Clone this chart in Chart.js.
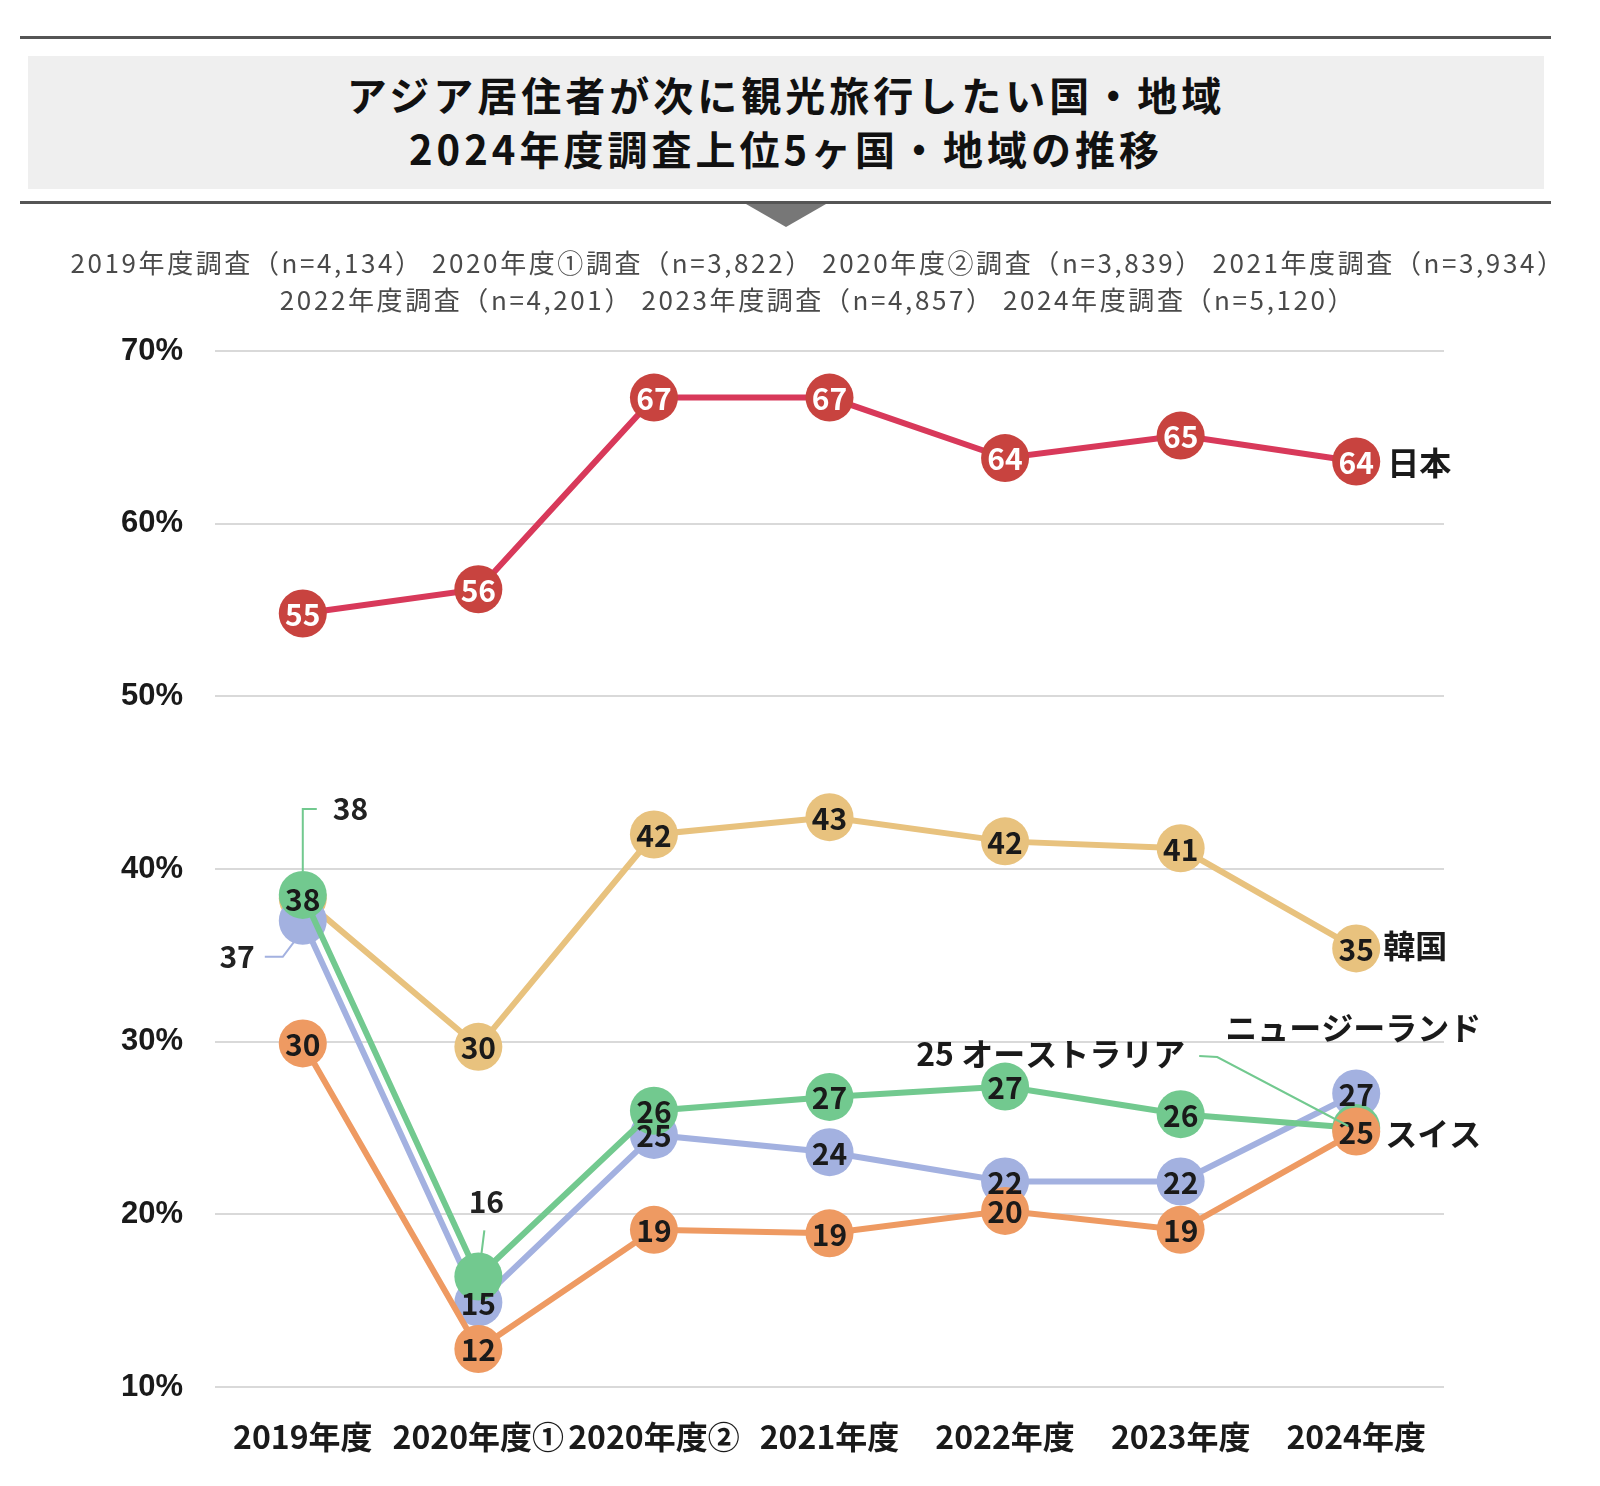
<!DOCTYPE html>
<html lang="ja">
<head>
<meta charset="utf-8">
<title>アジア居住者が次に観光旅行したい国・地域</title>
<script src="https://cdn.jsdelivr.net/npm/chart.js@4.4.1/dist/chart.umd.min.js"></script>
<style>
  html, body { margin: 0; padding: 0; background: #fff; }
  body { width: 1600px; height: 1486px; position: relative; overflow: hidden;
         font-family: "Noto Sans CJK JP", "Noto Sans", sans-serif; }
  #chart { position: absolute; left: 0; top: 0; }
  .rule { position: absolute; left: 20px; width: 1531px; height: 3px; background: #555; z-index: 2; }
  #titleBox { position: absolute; left: 28px; top: 56px; width: 1516px; height: 133px;
              background: #efefef; z-index: 2; text-align: center; color: #111;
              font-weight: 700; font-size: 40px; line-height: 54px; letter-spacing: 4px;
              padding-top: 11px; box-sizing: border-box; }
  #arrow { position: absolute; left: 746px; top: 204px; width: 0; height: 0; z-index: 2;
           border-left: 40px solid transparent; border-right: 40px solid transparent;
           border-top: 23px solid #777; }
  #note { position: absolute; left: 8px; top: 243px; width: 1620px; text-align: center;
          font-size: 26px; line-height: 37px; color: #4a4a4a; letter-spacing: 2.6px; z-index: 2; }
</style>
</head>
<body>
<div class="rule" style="top:36px"></div>
<div id="titleBox">
  <div>アジア居住者が次に観光旅行したい国・地域</div>
  <div>2024年度調査上位5ヶ国・地域の推移</div>
</div>
<div class="rule" style="top:201px"></div>
<div id="arrow"></div>
<div id="note">
  <div>2019年度調査（n=4,134） 2020年度①調査（n=3,822） 2020年度②調査（n=3,839） 2021年度調査（n=3,934）</div>
  <div>2022年度調査（n=4,201） 2023年度調査（n=4,857） 2024年度調査（n=5,120）</div>
</div>
<canvas id="chart" width="1600" height="1486"></canvas>
<script>
// survey rounds and share (%) of respondents per destination
const labels = ['2019年度', '2020年度①', '2020年度②', '2021年度', '2022年度', '2023年度', '2024年度'];
const japan = [54.8, 56.2, 67.3, 67.3, 63.8, 65.1, 63.6];
const korea = [38.3, 29.7, 42.0, 43.0, 41.6, 41.2, 35.4];
const australia = [38.5, 16.4, 26.0, 26.8, 27.4, 25.8, 25.0];
const newZealand = [37.0, 14.9, 24.6, 23.6, 21.9, 21.9, 27.0];
const switzerland = [29.9, 12.2, 19.1, 18.9, 20.2, 19.1, 24.8];
const yTicks = [10, 20, 30, 40, 50, 60, 70];

const NUM_FONT = 'bold 30px "Noto Sans CJK JP", "Noto Sans", sans-serif';
const NAME_FONT = 'bold 32px "Noto Sans CJK JP", sans-serif';

// labels that sit outside their circle, with a thin leader line (offsets from the point)
const callouts = {
  'australia-0': { text: '38', align: 'left', dx: 30, dy: -86, path: [[0, -24], [0, -86], [14, -86]] },
  'newZealand-0': { text: '37', align: 'right', dx: -48, dy: 36, path: [[-38, 36], [-20, 36], [-8, 20]] },
  'australia-1': { text: '16', align: 'center', dx: 8, dy: -75, path: [[6, -46], [3, -22]] },
  'australia-6': { text: '', align: 'right', dx: 0, dy: 0, path: [[-157, -72], [-139, -71], [-8, -2]] }
};

function makeSet(key, data, line, point, textColor, order, name) {
  return {
    key: key, label: key, data: data, order: order,
    borderColor: line, backgroundColor: point,
    pointBackgroundColor: point, pointBorderWidth: 0,
    pointRadius: 24, pointHoverRadius: 24, borderWidth: 6,
    tension: 0, textColor: textColor, name: name
  };
}

const valueLabels = {
  id: 'valueLabels',
  afterDatasetsDraw(chart) {
    const ctx = chart.ctx;
    ctx.save();
    ctx.textBaseline = 'middle';
    chart.data.datasets.forEach((ds, di) => {
      const meta = chart.getDatasetMeta(di);
      meta.data.forEach((pt, i) => {
        const c = callouts[ds.key + '-' + i];
        ctx.font = NUM_FONT;
        if (c) {
          ctx.strokeStyle = ds.borderColor;
          ctx.lineWidth = 2;
          ctx.beginPath();
          c.path.forEach((p, k) => k ? ctx.lineTo(pt.x + p[0], pt.y + p[1]) : ctx.moveTo(pt.x + p[0], pt.y + p[1]));
          ctx.stroke();
          ctx.fillStyle = '#222';
          ctx.textAlign = c.align;
          if (c.text) ctx.fillText(c.text, pt.x + c.dx, pt.y + c.dy);
        } else {
          ctx.fillStyle = ds.textColor;
          ctx.textAlign = 'center';
          ctx.fillText(Math.round(ds.data[i]), pt.x, pt.y + 1);
        }
      });
      // destination name next to the latest point
      if (ds.name) {
        const last = meta.data[meta.data.length - 1];
        ctx.font = NAME_FONT;
        ctx.fillStyle = '#1a1a1a';
        ctx.textAlign = ds.name.align;
        ctx.fillText(ds.name.text, last.x + ds.name.dx, last.y + ds.name.dy);
      }
    });
    ctx.restore();
  }
};

new Chart(document.getElementById('chart'), {
  type: 'line',
  data: {
    labels: labels,
    datasets: [
      makeSet('japan', japan, '#d8395a', '#c8433f', '#ffffff', 0, { text: '日本', align: 'left', dx: 31, dy: 1 }),
      makeSet('switzerland', switzerland, '#ee9a62', '#ee9a62', '#1a1a1a', 1, { text: 'スイス', align: 'left', dx: 29, dy: 2 }),
      makeSet('australia', australia, '#72c98f', '#72c98f', '#1a1a1a', 2, { text: '25 オーストラリア', align: 'right', dx: -171, dy: -74 }),
      makeSet('newZealand', newZealand, '#a3b1e0', '#a3b1e0', '#1a1a1a', 3, { text: 'ニュージーランド', align: 'left', dx: -131, dy: -66 }),
      makeSet('korea', korea, '#e8c27e', '#e8c27e', '#1a1a1a', 4, { text: '韓国', align: 'left', dx: 27, dy: -3 })
    ]
  },
  options: {
    responsive: false,
    animation: false,
    layout: { padding: { top: 351, right: 156, left: 0, bottom: 0 } },
    plugins: { legend: { display: false }, tooltip: { enabled: false } },
    scales: {
      x: {
        offset: true,
        grid: { display: false },
        border: { display: false },
        afterFit: (scale) => { scale.height = 99; },
        ticks: {
          autoSkip: false, maxRotation: 0, minRotation: 0, padding: 23, color: '#1a1a1a',
          font: { family: '"Noto Sans CJK JP", sans-serif', size: 32, weight: 'bold' }
        }
      },
      y: {
        min: yTicks[0], max: yTicks[yTicks.length - 1],
        afterFit: (scale) => { scale.width = 215; },
        afterBuildTicks: (scale) => { scale.ticks = yTicks.map(v => ({ value: v })); },
        grid: { color: '#d9d9d9', lineWidth: 2, drawTicks: false },
        border: { display: false },
        ticks: {
          padding: 32, color: '#1a1a1a',
          font: { family: '"Liberation Sans", Arial, sans-serif', size: 31, weight: 'bold' },
          callback: (v) => v + '%'
        }
      }
    }
  },
  plugins: [valueLabels]
});
</script>
</body>
</html>
